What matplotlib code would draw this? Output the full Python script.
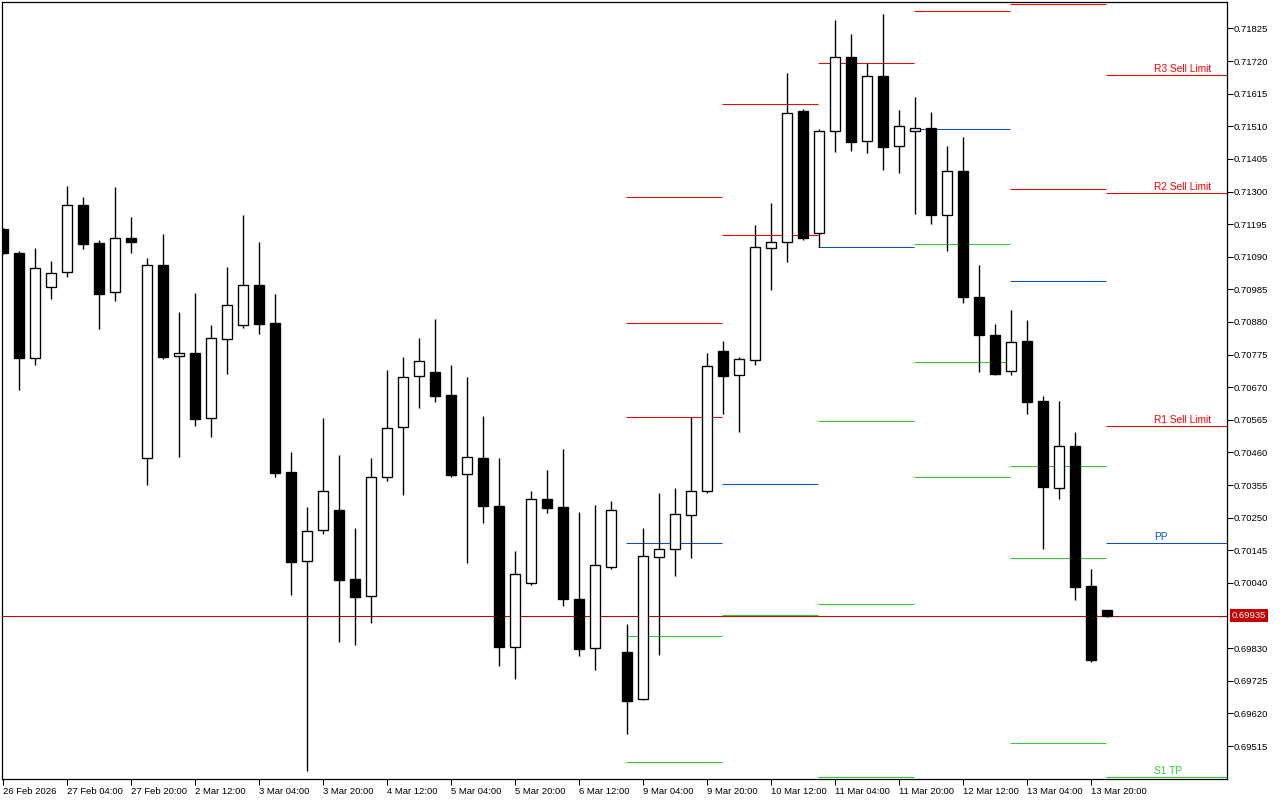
import numpy as np
import matplotlib.pyplot as plt
from matplotlib import transforms

# H4 candles, 26 Feb 12:00 .. 16 Mar 00:00
opens = [0.71179, 0.71102, 0.70764, 0.70992, 0.71041, 0.71256, 0.71134, 0.70976, 0.71150, 0.70442,
         0.71063, 0.70770, 0.70780, 0.70571, 0.70825, 0.70870, 0.70999, 0.70877, 0.70397, 0.70110,
         0.70210, 0.70275, 0.70053, 0.69998, 0.70381, 0.70542, 0.70706, 0.70719, 0.70645, 0.70391,
         0.70442, 0.70288, 0.69834, 0.70040, 0.70310, 0.70284, 0.69988, 0.69830, 0.70091, 0.69818,
         0.69666, 0.70123, 0.70149, 0.70259, 0.70336, 0.70786, 0.70709, 0.70757, 0.71118, 0.71137,
         0.71559, 0.71166, 0.71494, 0.71733, 0.71462, 0.71672, 0.71446, 0.71494, 0.71504, 0.71224,
         0.71366, 0.70960, 0.70838, 0.70722, 0.70819, 0.70625, 0.70345, 0.70481, 0.70030, 0.69953]
highs = [0.71182, 0.71108, 0.71118, 0.71076, 0.71317, 0.71282, 0.71144, 0.71314, 0.71218, 0.71086,
         0.71163, 0.70912, 0.70973, 0.70870, 0.71057, 0.71224, 0.71137, 0.70970, 0.70461, 0.70284,
         0.70571, 0.70452, 0.70217, 0.70442, 0.70725, 0.70767, 0.70828, 0.70889, 0.70741, 0.70703,
         0.70577, 0.70442, 0.70143, 0.70336, 0.70403, 0.70471, 0.70268, 0.70291, 0.70304, 0.69908,
         0.70217, 0.70329, 0.70345, 0.70574, 0.70780, 0.70819, 0.70767, 0.71192, 0.71263, 0.71681,
         0.71565, 0.71501, 0.71852, 0.71807, 0.71713, 0.71871, 0.71562, 0.71604, 0.71556, 0.71446,
         0.71475, 0.71063, 0.70873, 0.70918, 0.70886, 0.70642, 0.70625, 0.70526, 0.70085, 0.69953]
lows = [0.71099, 0.70661, 0.70741, 0.70954, 0.71025, 0.71115, 0.70857, 0.70947, 0.71102, 0.70355,
        0.70761, 0.70445, 0.70545, 0.70510, 0.70712, 0.70860, 0.70841, 0.70381, 0.70001, 0.69435,
        0.70197, 0.69850, 0.69840, 0.69911, 0.70368, 0.70323, 0.70603, 0.70622, 0.70381, 0.70104,
        0.70233, 0.69773, 0.69731, 0.70033, 0.70265, 0.69966, 0.69805, 0.69760, 0.70085, 0.69554,
        0.69663, 0.69808, 0.70062, 0.70120, 0.70329, 0.70584, 0.70526, 0.70741, 0.70983, 0.71073,
        0.71144, 0.71121, 0.71427, 0.71430, 0.71424, 0.71369, 0.71359, 0.71227, 0.71195, 0.71108,
        0.70941, 0.70719, 0.70709, 0.70709, 0.70584, 0.70149, 0.70310, 0.69985, 0.69785, 0.69930]
closes = [0.71102, 0.70764, 0.71054, 0.71037, 0.71256, 0.71131, 0.70970, 0.71150, 0.71137, 0.71063,
          0.70767, 0.70780, 0.70568, 0.70828, 0.70934, 0.70999, 0.70873, 0.70394, 0.70107, 0.70207,
          0.70336, 0.70049, 0.69995, 0.70381, 0.70539, 0.70703, 0.70754, 0.70642, 0.70387, 0.70445,
          0.70288, 0.69834, 0.70069, 0.70310, 0.70281, 0.69988, 0.69827, 0.70098, 0.70275, 0.69660,
          0.70127, 0.70149, 0.70262, 0.70336, 0.70738, 0.70706, 0.70761, 0.71121, 0.71137, 0.71552,
          0.71150, 0.71494, 0.71733, 0.71459, 0.71672, 0.71443, 0.71511, 0.71504, 0.71224, 0.71366,
          0.70960, 0.70838, 0.70712, 0.70815, 0.70622, 0.70349, 0.70481, 0.70027, 0.69792, 0.69935]

date_tick_idx = list(range(0, 70, 4))
date_labels = ["26 Feb 2026", "27 Feb 04:00", "27 Feb 20:00", "2 Mar 12:00", "3 Mar 04:00",
               "3 Mar 20:00", "4 Mar 12:00", "5 Mar 04:00", "5 Mar 20:00", "6 Mar 12:00",
               "9 Mar 04:00", "9 Mar 20:00", "10 Mar 12:00", "11 Mar 04:00", "11 Mar 20:00",
               "12 Mar 12:00", "13 Mar 04:00", "13 Mar 20:00"]
price_ticks = [0.71825, 0.71720, 0.71615, 0.71510, 0.71405, 0.71300, 0.71195, 0.71090, 0.70985,
               0.70880, 0.70775, 0.70670, 0.70565, 0.70460, 0.70355, 0.70250, 0.70145, 0.70040,
               0.69830, 0.69725, 0.69620, 0.69515]

# daily pivot levels (first candle of each day)
day_start = [39, 45, 51, 57, 63, 69]
res_levels = [[0.71282, 0.70877, 0.70574], [0.71581, 0.71160], [0.71713], [0.71881],
              [0.71903, 0.71308], [0.71675, 0.71295, 0.70545]]
pp_levels = [0.70168, 0.70358, 0.71121, 0.71501, 0.71012, 0.70168]
sup_levels = [[0.69869, 0.69464], [0.69937], [0.70561, 0.69972, 0.69414],
              [0.71131, 0.70751, 0.70381], [0.70416, 0.70120, 0.69525], [0.69415]]
res_names = ["R3 Sell Limit", "R2 Sell Limit", "R1 Sell Limit"]
pp_name = "PP"
sup_names = ["S1 TP"]

current_price = 0.69935

RED = "#ff0000"
BLUE = "#0a4fcf"
GREEN = "#33cc33"
LW = 0.75

plt.rcParams['font.family'] = ['Liberation Sans', 'DejaVu Sans']

fig = plt.figure(figsize=(12.8, 8), dpi=100)
ax = fig.add_axes([2 / 1280, 21 / 800, 1225 / 1280, 777 / 800])
x_lo, x_hi = -0.06, 76.5
ax.set_xlim(x_lo, x_hi)
ax.set_ylim(0.69409, 0.71910)

o = np.array(opens)
h = np.array(highs)
l = np.array(lows)
c = np.array(closes)
x = np.arange(len(o))
up = c >= o

ax.vlines(x, l, h, color="black", lw=1.0, zorder=3)
bottoms = np.minimum(o, c)
heights = np.maximum(np.abs(c - o), 0.00003)
ax.bar(x[up], heights[up], 0.6, bottoms[up], facecolor="white", edgecolor="black", lw=LW * 1.3, zorder=4)
ax.bar(x[~up], heights[~up], 0.6, bottoms[~up], facecolor="black", edgecolor="black", lw=LW * 1.3, zorder=4)

# pivot segments
for k, s in enumerate(day_start):
    x0 = s - 0.05
    x1 = s + 6 - 0.05 if k < len(day_start) - 1 else x_hi
    for v in res_levels[k]:
        ax.hlines(v, x0, x1, color=RED, lw=LW, zorder=2)
    ax.hlines(pp_levels[k], x0, x1, color=BLUE, lw=LW, zorder=2)
    for v in sup_levels[k]:
        ax.hlines(v, x0, x1, color=GREEN, lw=LW, zorder=2)

# labels for the current day
lab_x = (1154 - 3) / 16
for name, v in zip(res_names, res_levels[-1]):
    ax.annotate(name, xy=(lab_x, v), xytext=(0, 2), textcoords="offset points",
                ha="left", va="baseline", color=RED, fontsize=7.3)
ax.annotate(pp_name, xy=(lab_x, pp_levels[-1]), xytext=(0, 2), textcoords="offset points",
            ha="left", va="baseline", color=BLUE, fontsize=7.3)
ax.annotate(sup_names[0], xy=(lab_x, sup_levels[-1][0]), xytext=(0, 2), textcoords="offset points",
            ha="left", va="baseline", color=GREEN, fontsize=7.3)

# current price line and label
ax.axhline(current_price, color="#d00000", lw=LW, zorder=2)
tr = transforms.blended_transform_factory(fig.transFigure, ax.transData)
ax.text(1232 / 1280, current_price, "%.5f" % current_price, transform=tr, ha="left", va="center",
        color="white", fontsize=6.8, clip_on=False,
        bbox=dict(boxstyle="square,pad=0.2", fc="#c40000", ec="none"))

ax.yaxis.tick_right()
ax.set_yticks(price_ticks)
ax.set_yticklabels(["%.5f" % v for v in price_ticks])
ax.set_xticks(date_tick_idx)
ax.set_xticklabels(date_labels, ha="left")
ax.tick_params(axis="both", direction="out", length=4, width=0.75, labelsize=6.8, colors="black")
ax.tick_params(axis="y", pad=1)
ax.tick_params(axis="x", pad=2)
for sp in ax.spines.values():
    sp.set_color("black")
    sp.set_linewidth(0.9)

fig.savefig("out.png", dpi=100, facecolor="white")
